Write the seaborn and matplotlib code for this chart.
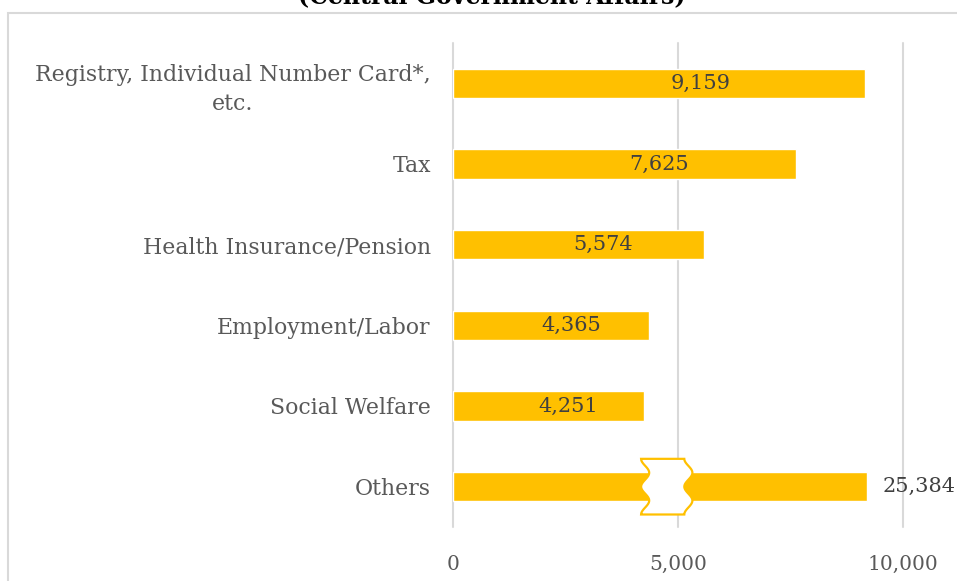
import matplotlib
matplotlib.use("Agg")
import matplotlib.pyplot as plt
import numpy as np
import seaborn as sns
from matplotlib.patches import PathPatch, Rectangle
from matplotlib.path import Path

# data
categories = ["Registry, Individual Number Card*,\netc.", "Tax", "Health Insurance/Pension",
              "Employment/Labor", "Social Welfare", "Others"]
values = [9159, 7625, 5574, 4365, 4251, 25384]
x_ticks = [0, 5000, 10000]
title = "(Central Government Affairs)"

# bars longer than the axis get cut and shown with a break mark
axis_max = 10000
cap_len = 9200
shown = [min(v, cap_len) for v in values]

gold = "#FFC000"
grey = "#595959"
dark = "#404040"

sns.set_theme(style="white")
plt.rcParams["font.family"] = ["DejaVu Serif", "DejaVu Sans"]

fig = plt.figure(figsize=(9.57, 5.81), dpi=100)
ax = fig.add_axes([453 / 957, 1 - 527 / 581, 450 / 957, 484 / 581])

sns.barplot(x=shown, y=categories, color=gold, saturation=1, width=0.36, ax=ax)

ax.set_xlim(0, axis_max)
ax.set_xticks(x_ticks)
ax.set_xticklabels([f"{t:,}" for t in x_ticks])
ax.set_xlabel("")
ax.set_ylabel("")
for s in ax.spines.values():
    s.set_visible(False)
ax.xaxis.grid(True, color="#D9D9D9", lw=1.5)
ax.yaxis.grid(False)
for gl in ax.get_xgridlines():
    gl.set_clip_on(False)
ax.tick_params(axis="both", length=0, labelcolor=grey)
ax.tick_params(axis="x", pad=20, labelsize=14.5)
ax.tick_params(axis="y", pad=16, labelsize=15.8)
for lbl in ax.get_yticklabels():
    lbl.set_multialignment("center")
    lbl.set_linespacing(1.4)

# value labels
for i, v in enumerate(values):
    if v > axis_max:
        ax.text(cap_len + 350, i, f"{v:,}", ha="left", va="center",
                fontsize=15, color=dark, clip_on=False)
    else:
        ax.text(v * 0.6, i, f"{v:,}", ha="center", va="center",
                fontsize=15, color=dark)

# break mark on the long bar
for i, v in enumerate(values):
    if v <= axis_max:
        continue
    xc, hw, amp, hh = 4750, 480, 90, 0.345
    t = np.linspace(0, 1, 60)
    ys = i - hh + 2 * hh * t
    left = xc - hw - amp * np.cos(4 * np.pi * t)
    right = xc + hw - amp * np.cos(4 * np.pi * t)
    verts = list(zip(left, ys)) + list(zip(right[::-1], ys[::-1])) + [(left[0], ys[0])]
    codes = [Path.MOVETO] + [Path.LINETO] * (len(verts) - 2) + [Path.CLOSEPOLY]
    ax.add_patch(PathPatch(Path(verts, codes), facecolor="white", edgecolor=gold,
                           lw=1.6, zorder=5, clip_on=False))

# frame and clipped title (cut at the top edge, as in the source)
fig.patches.append(Rectangle((8 / 957, -0.05), 1.1, 1 - 13 / 581 + 0.05,
                             transform=fig.transFigure, fill=False,
                             edgecolor="#D9D9D9", lw=1.5))
fig.text(492 / 957, 1 - 3 / 581, title, ha="center", va="baseline",
         fontsize=17, fontweight="bold", color="black")

fig.savefig("out.png", dpi=100)
